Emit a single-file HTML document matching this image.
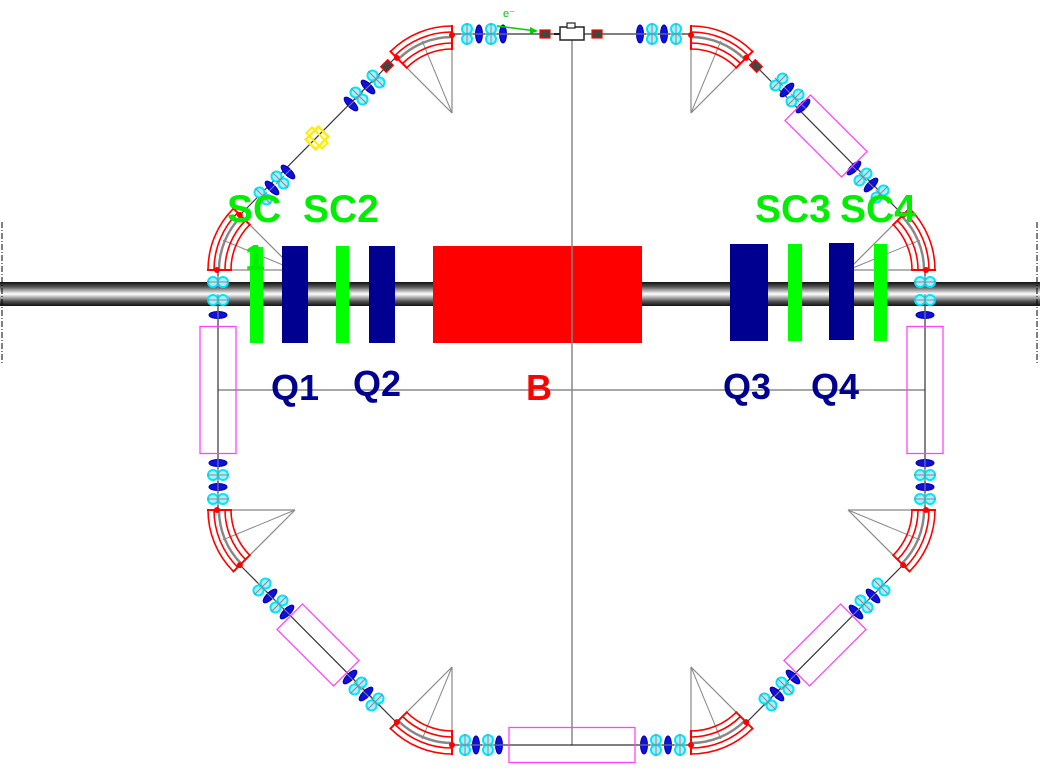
<!DOCTYPE html>
<html><head><meta charset="utf-8"><style>
html,body{margin:0;padding:0;background:#fff;width:1040px;height:780px;overflow:hidden}
svg{display:block}
.lbl{font-family:"Liberation Sans",Arial,sans-serif;font-weight:bold;font-size:36px}
.sc{font-size:39px}
</style></head><body>
<svg id="s" width="1040" height="780" viewBox="0 0 1040 780" xmlns="http://www.w3.org/2000/svg">
<defs>
<linearGradient id="pipe" x1="0" y1="0" x2="0" y2="1">
<stop offset="0" stop-color="#111"/><stop offset="0.2" stop-color="#555"/><stop offset="0.5" stop-color="#fff"/><stop offset="0.8" stop-color="#555"/><stop offset="1" stop-color="#111"/>
</linearGradient>
</defs>
<g id="bg"></g>
<rect x="0" y="282" width="1040" height="24" fill="url(#pipe)"/>
<line x1="2" y1="222" x2="2" y2="365" stroke="#000" stroke-width="1" stroke-dasharray="6,2,1,2"/>
<line x1="1037" y1="222" x2="1037" y2="365" stroke="#000" stroke-width="1" stroke-dasharray="6,2,1,2"/>
<g id="fg"></g>
<rect x="250" y="247" width="13" height="96" fill="#00ff00"/>
<rect x="282" y="246" width="26" height="97" fill="#000090"/>
<rect x="336" y="246" width="13" height="97" fill="#00ff00"/>
<rect x="369" y="246" width="26" height="97" fill="#000090"/>
<rect x="433" y="246" width="209" height="97" fill="#ff0000"/>
<rect x="730" y="244" width="38" height="97" fill="#000090"/>
<rect x="788" y="244" width="14" height="97" fill="#00ff00"/>
<rect x="829" y="243" width="25" height="97" fill="#000090"/>
<rect x="874" y="244" width="13" height="97" fill="#00ff00"/>
<line x1="572" y1="246" x2="572" y2="343" stroke="#888" stroke-width="1.5"/>
<text class="lbl sc" x="227" y="222" fill="#00ee00">SC</text>
<text class="lbl" x="245" y="270" fill="#00ee00" font-size="28">1</text>
<text class="lbl sc" x="303" y="222" fill="#00ee00">SC2</text>
<text class="lbl sc" x="755" y="222" fill="#00ee00">SC3</text>
<text class="lbl sc" x="840" y="222" fill="#00ee00">SC4</text>
<text class="lbl" x="271" y="400" fill="#000090">Q1</text>
<text class="lbl" x="353" y="396" fill="#000090">Q2</text>
<text class="lbl" x="526" y="400" fill="#ff0000">B</text>
<text class="lbl" x="723" y="399" fill="#000090">Q3</text>
<text class="lbl" x="811" y="399" fill="#000090">Q4</text>
<text x="503" y="17" fill="#00cc00" font-family="Liberation Sans,sans-serif" font-size="11">e⁻</text>
</svg>
<script>
var NS="http://www.w3.org/2000/svg";
var bg=document.getElementById('bg'),fg=document.getElementById('fg');
function el(p,t,a){var e=document.createElementNS(NS,t);for(var k in a)e.setAttribute(k,a[k]);p.appendChild(e);return e;}
var CX=1143;
function line(p,x1,y1,x2,y2,c,w){el(p,'line',{x1:x1,y1:y1,x2:x2,y2:y2,stroke:c,'stroke-width':w||1});}
line(bg,572,34,572,745,'#888',1.5);
line(bg,218,390,925,390,'#888',1.5);
var bends=[[452,113,-90,-135],[295,270,180,225],[295,510,180,135],[452,667,90,135]];
function pt(ax,ay,r,a){a=a*Math.PI/180;return [ax+r*Math.cos(a),ay+r*Math.sin(a)];}
function arc(ax,ay,r,a1,a2){var p1=pt(ax,ay,r,a1),p2=pt(ax,ay,r,a2);var sw=(a2>a1)?1:0;return 'M'+p1[0]+' '+p1[1]+' A'+r+' '+r+' 0 0 '+sw+' '+p2[0]+' '+p2[1];}
function drawBend(ax,ay,a1,a2,m){
  if(m){ax=CX-ax;a1=180-a1;a2=180-a2;}
  var r=78;
  var p1=pt(ax,ay,r,a1),p2=pt(ax,ay,r,a2),pm=pt(ax,ay,r,(a1+a2)/2);
  line(bg,ax,ay,p1[0],p1[1],'#888',1.2);line(bg,ax,ay,p2[0],p2[1],'#888',1.2);line(bg,ax,ay,pm[0],pm[1],'#888',1);
  [-14,-8,3,9].forEach(function(d){el(fg,'path',{d:arc(ax,ay,r+d,a1,a2),fill:'none',stroke:'#ff0000','stroke-width':1.6});});
  el(fg,'path',{d:arc(ax,ay,r-2,a1,a2),fill:'none',stroke:'#888','stroke-width':2.5});
  [a1,a2].forEach(function(a){var i=pt(ax,ay,r-15,a),o=pt(ax,ay,r+10,a);line(fg,i[0],i[1],o[0],o[1],'#ff0000',2);
    el(fg,'circle',{cx:pt(ax,ay,r,a)[0],cy:pt(ax,ay,r,a)[1],r:3,fill:'#ff0000'});});
}
bends.forEach(function(b){drawBend(b[0],b[1],b[2],b[3],false);drawBend(b[0],b[1],b[2],b[3],true);});
var segs=[[452,34,572,34],[396,57,240,215],[218,270,218,510],[240,565,396,722],[452,745,572,745]];
segs.forEach(function(s){line(bg,s[0],s[1],s[2],s[3],'#333',1.2);line(bg,CX-s[0],s[1],CX-s[2],s[3],'#333',1.2);});
function quad(x,y,ang,type,m){
  if(m){x=CX-x;ang=180-ang;}
  var g=el(fg,'g',{transform:'translate('+x+','+y+') rotate('+ang+')'});
  if(type=='c'){
    el(g,'circle',{cx:0,cy:-5,r:5,fill:'#aef',stroke:'#00e5ff','stroke-width':2});
    el(g,'circle',{cx:0,cy:5,r:5,fill:'#aef',stroke:'#00e5ff','stroke-width':2});
    line(g,0,-11,0,11,'#888',1);line(g,-6,0,6,0,'#888',1);
  } else {
    el(g,'ellipse',{cx:0,cy:0,rx:3.5,ry:9,fill:'#1010dd',stroke:'#0000aa','stroke-width':1});
    line(g,-4,0,4,0,'#888',1);
  }
}
var Q=[
 [467,34,0,'c'],[479,34,0,'b'],[491,34,0,'c'],[503,34,0,'b'],
 [376,79,-45,'c'],[368,87,-45,'b'],[359,96,-45,'c'],[351,104,-45,'b'],
 [288,172,-45,'b'],[280,180,-45,'c'],[272,188,-45,'b'],[263,196,-45,'c'],
 [218,282,90,'c'],[218,300,90,'c'],[218,315,90,'b'],
 [218,463,90,'b'],[218,475,90,'c'],[218,487,90,'b'],[218,499,90,'c'],
 [262,587,45,'c'],[270,596,45,'b'],[279,604,45,'c'],[287,612,45,'b'],
 [350,677,45,'b'],[358,686,45,'c'],[366,694,45,'b'],[375,702,45,'c'],
 [465,745,0,'c'],[476,745,0,'b'],[488,745,0,'c'],[499,745,0,'b']
];
Q.forEach(function(q){quad(q[0],q[1],q[2],q[3],false);});
var QR=[
 [467,34,0,'c'],[479,34,0,'b'],[491,34,0,'c'],[503,34,0,'b'],
 [364,82,-45,'c'],[356,90,-45,'b'],[348,98,-45,'c'],[340,106,-45,'b'],
 [289,168,-45,'b'],[280,177,-45,'c'],[272,185,-45,'b'],[263,194,-45,'c'],
 [218,282,90,'c'],[218,300,90,'c'],[218,315,90,'b'],
 [218,463,90,'b'],[218,475,90,'c'],[218,487,90,'b'],[218,499,90,'c'],
 [262,587,45,'c'],[270,596,45,'b'],[279,604,45,'c'],[287,612,45,'b'],
 [350,677,45,'b'],[358,686,45,'c'],[366,694,45,'b'],[375,702,45,'c'],
 [499,745,0,'b'],[487,745,0,'c'],[475,745,0,'b'],[463,745,0,'c']
];
QR.forEach(function(q){quad(q[0],q[1],q[2],q[3],true);});
function mbox(cx,cy,w,h,ang){el(fg,'rect',{x:-w/2,y:-h/2,width:w,height:h,fill:'none',stroke:'#ff44ff','stroke-width':1.3,transform:'translate('+cx+','+cy+') rotate('+ang+')'});}
mbox(218,390,36,127,0);mbox(925,390,36,127,0);mbox(572,745,126,35,0);
mbox(318,645,80,36,45);mbox(825,645,80,36,-45);mbox(826,136,80,36,45);
var y=el(fg,'g',{transform:'translate(317,138) rotate(-45)'});
el(y,'rect',{x:-9,y:-7,width:18,height:14,fill:'none',stroke:'#ffee00','stroke-width':2.5});
el(y,'rect',{x:-4,y:-11,width:8,height:22,fill:'none',stroke:'#ffee00','stroke-width':2});
function sbox(cx,cy,ang){el(fg,'rect',{x:-5,y:-4,width:10,height:8,fill:'#444',stroke:'#ff0000','stroke-width':1.2,transform:'translate('+cx+','+cy+') rotate('+ang+')'});}
sbox(387,66,-45);sbox(756,66,45);sbox(545,34,0);sbox(597,34,0);
var g=el(fg,'g',{transform:'translate(572,34)'});
el(g,'rect',{x:-12,y:-7,width:24,height:13,fill:'#fff',stroke:'#222','stroke-width':1.5});
el(g,'rect',{x:-5,y:-11,width:8,height:5,fill:'#fff',stroke:'#222','stroke-width':1.2});
line(g,-18,0,-12,0,'#222',2);
line(fg,497,26,536,31,'#00cc00',1.5);
el(fg,'path',{d:'M538 31 L530 27 L530 34 Z',fill:'#00cc00'});
</script>
</body></html>
